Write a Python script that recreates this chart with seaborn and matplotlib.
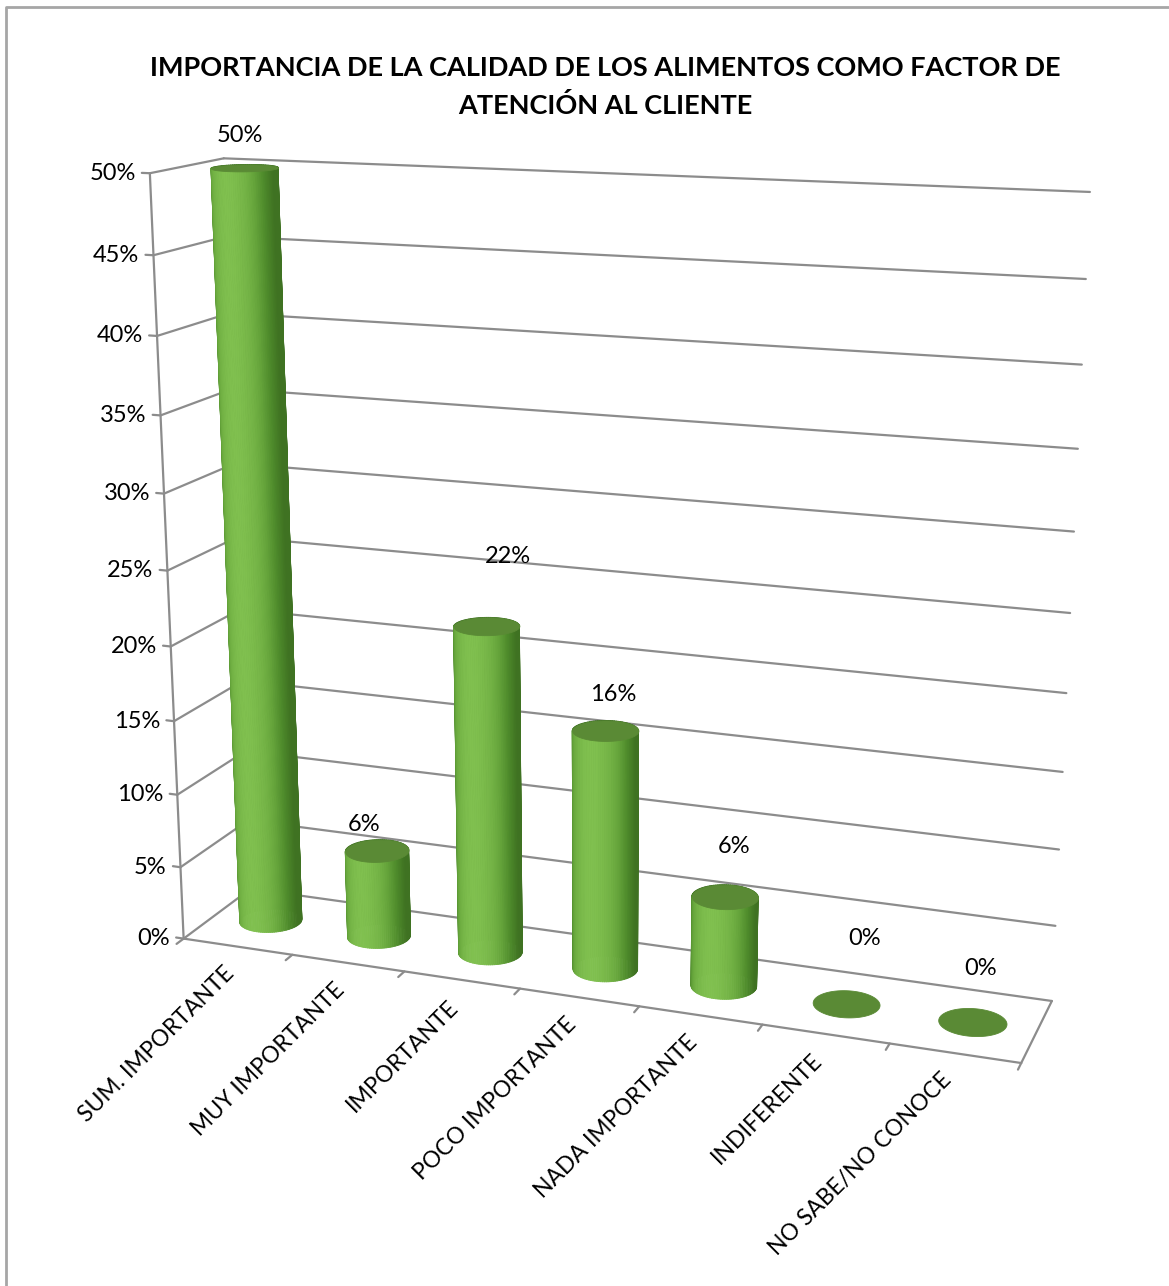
import numpy as np
import matplotlib
matplotlib.use("Agg")
import matplotlib.pyplot as plt
from matplotlib.lines import Line2D
from mpl_toolkits.mplot3d.art3d import Poly3DCollection
from mpl_toolkits.mplot3d import proj3d
import seaborn as sns

# ---- data -------------------------------------------------------------
categories = [
    "SUM. IMPORTANTE",
    "MUY IMPORTANTE",
    "IMPORTANTE",
    "POCO IMPORTANTE",
    "NADA IMPORTANTE",
    "INDIFERENTE",
    "NO SABE/NO CONOCE",
]
shares = [0.50, 0.06, 0.22, 0.16, 0.06, 0.00, 0.00]
value_labels = ["50%", "6%", "22%", "16%", "6%", "0%", "0%"]
y_ticks = [0.00, 0.05, 0.10, 0.15, 0.20, 0.25, 0.30, 0.35, 0.40, 0.45, 0.50]
y_tick_labels = ["0%", "5%", "10%", "15%", "20%", "25%", "30%", "35%", "40%", "45%", "50%"]
title_lines = ["IMPORTANCIA DE LA CALIDAD DE LOS ALIMENTOS COMO FACTOR DE",
               "ATENCIÓN AL CLIENTE"]

# nudges (pixels) of the value labels relative to the top of each cylinder
label_dx = [-5, -13, 21, 8, 9, 18, 8]
label_dy = [32, 26, 70, 36, 50, 65, 53]

# ---- style ------------------------------------------------------------
sns.set_theme(style="white")
plt.rcParams["font.family"] = ["Lato", "DejaVu Sans"]

GRID = "#8c8c8c"
TEXT = "#000000"
cyl_cmap = sns.blend_palette(["#3f7222", "#4f8c2c", "#6aa93e", "#80c04f"], as_cmap=True)
CAP = "#5a8a35"

ELEV, AZIM = 15, -70
DEPTH = 1.2           # floor depth in category units
RADIUS = 0.26         # cylinder radius in category units
ZSPAN = 6.3           # physical height of the 0-50 % range

fig = plt.figure(figsize=(11.69, 12.86), dpi=100)
ax = fig.add_axes([0.0043, 0.028, 1.0, 1.0], projection="3d", computed_zorder=False)
ax.set_proj_type("persp", focal_length=0.42)
ax.view_init(elev=ELEV, azim=AZIM)
n = len(categories)
ax.set_xlim(-0.5, n - 0.5)
ax.set_ylim(0, DEPTH)
ax.set_zlim(0, y_ticks[-1])
ax.set_box_aspect((n, DEPTH, ZSPAN), zoom=1.0175)
ax.set_axis_off()

x0, x1 = -0.5, n - 0.5
gkw = dict(color=GRID, lw=1.6, zorder=1)

# walls: gridlines on the left wall and on the back wall
for z in y_ticks:
    ax.plot([x0, x0], [0, DEPTH], [z, z], **gkw)
    ax.plot([x0, x1], [DEPTH, DEPTH], [z, z], **gkw)
# vertical value axis with its ticks
ax.plot([x0, x0], [0, 0], [0, y_ticks[-1]], **gkw)
for z in y_ticks:
    ax.plot([x0 - 0.07, x0], [0, 0], [z, z], **gkw)
# floor outline and category ticks
ax.plot([x0, x1], [0, 0], [0, 0], **gkw)
ax.plot([x1, x1], [0, DEPTH], [0, 0], **gkw)
for b in np.arange(n + 1) - 0.5:
    ax.plot([b, b], [0, -0.12], [0, 0], **gkw)

# cylinders
theta = np.linspace(0, 2 * np.pi, 97)
yc = DEPTH / 2
az = np.deg2rad(AZIM - 25)
light = np.array([np.cos(az), np.sin(az)])
for i, v in enumerate(shares):
    if v > 0:
        verts, cols = [], []
        for t0, t1 in zip(theta[:-1], theta[1:]):
            tm = 0.5 * (t0 + t1)
            inten = np.clip(np.cos(tm) * light[0] + np.sin(tm) * light[1], 0, 1)
            c = cyl_cmap(inten ** 1.3)
            verts.append([
                (i + RADIUS * np.cos(t0), yc + RADIUS * np.sin(t0), 0),
                (i + RADIUS * np.cos(t1), yc + RADIUS * np.sin(t1), 0),
                (i + RADIUS * np.cos(t1), yc + RADIUS * np.sin(t1), v),
                (i + RADIUS * np.cos(t0), yc + RADIUS * np.sin(t0), v),
            ])
            cols.append(c)
        body = Poly3DCollection(verts, facecolors=cols, edgecolors=cols, linewidths=0.6)
        body.set_zorder(3 + 0.01 * i)
        ax.add_collection3d(body)
    cap = [[(i + RADIUS * np.cos(t), yc + RADIUS * np.sin(t), v) for t in theta]]
    top = Poly3DCollection(cap, facecolors=CAP, edgecolors=CAP, linewidths=0.6)
    top.set_zorder(3.5 + 0.01 * i)
    ax.add_collection3d(top)

# texts are placed in screen space at the projected 3D anchor points
fig.canvas.draw()
M = ax.get_proj()


def screen(x, y, z):
    xs, ys, _ = proj3d.proj_transform(x, y, z, M)
    return xs, ys


akw = dict(xycoords="data", textcoords="offset pixels", annotation_clip=False,
           color=TEXT, zorder=6)

for z, lab in zip(y_ticks, y_tick_labels):
    ax.annotate(lab, xy=screen(x0, 0, z), xytext=(-14, 0), ha="right", va="center",
                fontsize=17, **akw)

for i, v in enumerate(shares):
    ax.annotate(value_labels[i], xy=screen(i, yc, v), xytext=(label_dx[i], label_dy[i]),
                ha="center", va="center", fontsize=17, **akw)

for i, lab in enumerate(categories):
    ax.annotate(lab, xy=screen(i, 0, 0), xytext=(-14, -16), ha="right", va="top",
                rotation=45, rotation_mode="anchor", fontsize=16.5, **akw)

fig.text(0.518, 1 - 68 / 1286, title_lines[0], ha="center", va="center", fontsize=19.5,
         fontweight="bold", color=TEXT)
fig.text(0.518, 1 - 106 / 1286, title_lines[1], ha="center", va="center", fontsize=19.5,
         fontweight="bold", color=TEXT)

# outer chart frame (left and top edges)
fig.add_artist(Line2D([5.5 / 1169, 5.5 / 1169, 1.0], [0.0, 1 - 7 / 1286, 1 - 7 / 1286],
                      transform=fig.transFigure, color="#a6a6a6", lw=2))

fig.savefig("out.png", dpi=100)
